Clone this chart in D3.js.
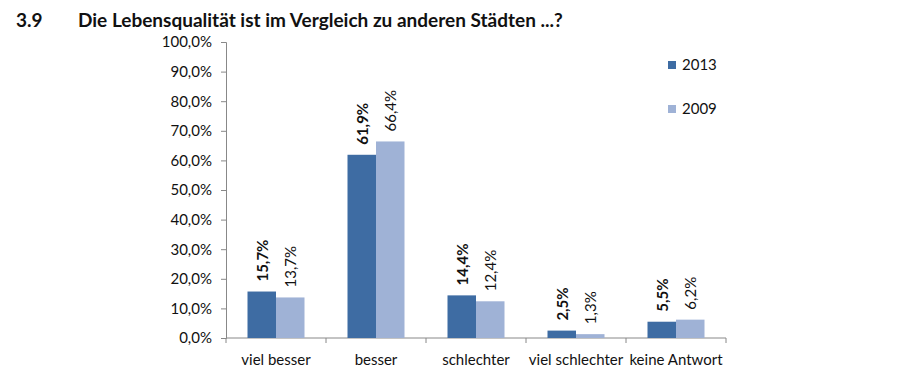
<!DOCTYPE html>
<html>
<head>
<meta charset="utf-8">
<script src="https://cdn.jsdelivr.net/npm/d3@7"></script>
<style>
    body { margin: 0; background: #fff; }
    text { font-family: Lato, "Open Sans", sans-serif; fill: #111; }
</style>
</head>
<body>
<div id="root"></div>
<script>
var categories = ["viel besser", "besser", "schlechter", "viel schlechter", "keine Antwort"];
var series = ["2013", "2009"];
var values2013 = [15.7, 61.9, 14.4, 2.5, 5.5];
var values2009 = [13.7, 66.4, 12.4, 1.3, 6.2];
var yTicks = [0, 10, 20, 30, 40, 50, 60, 70, 80, 90, 100];
var colors = ["#3e6ca3", "#9fb2d6"];

var width = 900, height = 383;
var margin = { top: 42, left: 226, right: 174, bottom: 45 };
var plotBottom = 338;

var svg = d3.select("#root")
    .append("svg")
    .attr("width", width)
    .attr("height", height);

// title
svg.append("text")
    .attr("x", 16).attr("y", 27)
    .style("font-size", "19px").style("font-weight", "bold")
    .text("3.9");
svg.append("text")
    .attr("x", 78).attr("y", 27)
    .style("font-size", "19px").style("font-weight", "bold")
    .text("Die Lebensqualität ist im Vergleich zu anderen Städten ...?");

var x = d3.scaleBand()
    .domain(categories)
    .range([margin.left, width - margin.right]);

var y = d3.scaleLinear()
    .domain([0, 100])
    .range([plotBottom, margin.top]);

var fmt = function (v) { return v.toFixed(1).replace(".", ",") + "%"; };

// y axis
var yAxis = svg.append("g")
    .attr("transform", "translate(" + margin.left + ",0)")
    .call(d3.axisLeft(y).tickValues(yTicks).tickSize(5).tickFormat(fmt));
yAxis.selectAll("text").style("font-size", "15px").attr("dx", "-6");
yAxis.selectAll("line, path").attr("stroke", "#888");

// x axis with ticks at band edges
var xAxis = svg.append("g").attr("transform", "translate(0," + plotBottom + ")");
xAxis.append("line")
    .attr("x1", margin.left).attr("x2", width - margin.right)
    .attr("stroke", "#888");
var edges = categories.map(function (c) { return x(c); }).concat([width - margin.right]);
xAxis.selectAll(".tk")
    .data(edges)
    .enter()
    .append("line")
    .attr("x1", function (d) { return d; })
    .attr("x2", function (d) { return d; })
    .attr("y1", 0).attr("y2", 5)
    .attr("stroke", "#888");
xAxis.selectAll(".cat")
    .data(categories)
    .enter()
    .append("text")
    .attr("x", function (d) { return x(d) + x.bandwidth() / 2; })
    .attr("y", 27)
    .attr("text-anchor", "middle")
    .style("font-size", "15px")
    .text(function (d) { return d; });

var bw = x.bandwidth() * 0.285;
var all = [values2013, values2009];

all.forEach(function (vals, s) {
    var g = svg.append("g");
    var bx = function (i) { return x(categories[i]) + x.bandwidth() / 2 - bw + s * bw; };
    g.selectAll("rect")
        .data(vals)
        .enter()
        .append("rect")
        .attr("x", function (d, i) { return bx(i); })
        .attr("y", function (d) { return y(d); })
        .attr("width", bw)
        .attr("height", function (d) { return plotBottom - y(d); })
        .style("fill", colors[s]);
    g.selectAll("text")
        .data(vals)
        .enter()
        .append("text")
        .attr("transform", function (d, i) {
            var cx = bx(i) + bw / 2 + 6;
            return "translate(" + cx + "," + (y(d) - 10) + ") rotate(-90)";
        })
        .style("font-size", "15px")
        .style("font-weight", s === 0 ? "bold" : "normal")
        .text(function (d) { return fmt(d); });
});

// legend
series.forEach(function (name, i) {
    var ly = 65 + i * 44;
    svg.append("rect")
        .attr("x", 668).attr("y", ly - 4)
        .attr("width", 8).attr("height", 8)
        .style("fill", colors[i]);
    svg.append("text")
        .attr("x", 682).attr("y", ly + 5)
        .style("font-size", "15px")
        .text(name);
});
</script>
</body>
</html>
